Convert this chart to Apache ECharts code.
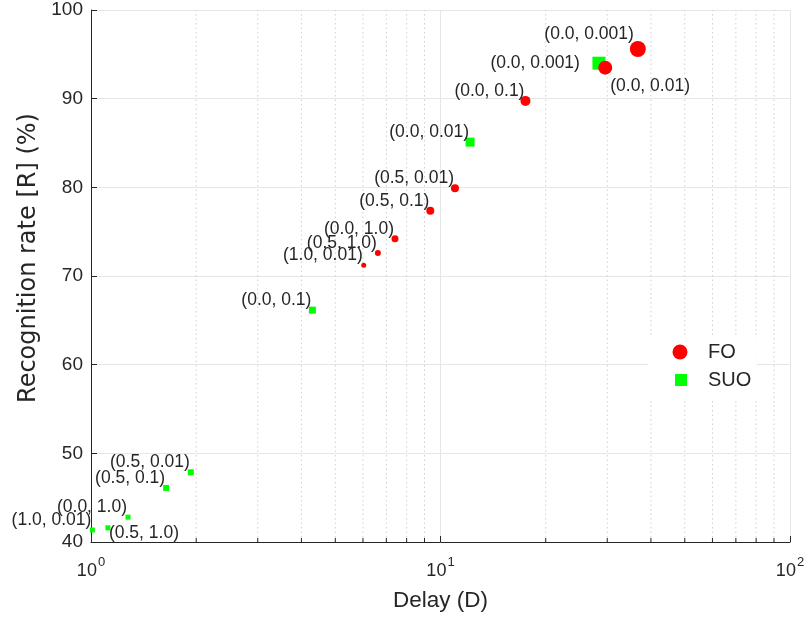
<!DOCTYPE html>
<html>
<head>
<meta charset="utf-8">
<script src="https://cdn.jsdelivr.net/npm/echarts@6/dist/echarts.min.js"></script>
<style>html,body{margin:0;padding:0;background:#fff;}#c{width:808px;height:623px;}</style>
</head>
<body>
<div id="c"></div>
<script>
// ---- data ----
const foX = [36.7, 29.6, 17.5, 11.0, 9.35, 7.41, 6.62, 6.03];
const foY = [95.6, 93.5, 89.75, 79.9, 77.35, 74.2, 72.6, 71.2];
const foLabels = ['(0.0, 0.001)', '(0.0, 0.01)', '(0.0, 0.1)', '(0.5, 0.01)', '(0.5, 0.1)', '(0.0, 1.0)', '(0.5, 1.0)', '(1.0, 0.01)'];

const suoX = [28.4, 12.15, 4.30, 1.93, 1.64, 1.276, 1.118, 1.009];
const suoY = [94.0, 85.1, 66.15, 47.86, 46.1, 42.8, 41.6, 41.35];
const suoLabels = ['(0.0, 0.001)', '(0.0, 0.01)', '(0.0, 0.1)', '(0.5, 0.01)', '(0.5, 0.1)', '(0.0, 1.0)', '(0.5, 1.0)', '(1.0, 0.01)'];

const xMinorTicks = [2, 3, 4, 5, 6, 7, 8, 9, 20, 30, 40, 50, 60, 70, 80, 90];
const yTickMin = 40, yTickMax = 100, yTickStep = 10;
const xTickMin = 1, xTickMax = 100;

// ---- styles ----
const foSizes = [16, 14, 10, 8, 8, 7, 6, 5];
const suoSizes = [13, 9, 7, 6, 6, 5, 5, 5];
const FONT = "'Liberation Sans', Arial, Helvetica, sans-serif";
const TXT = '#262626';
const foLabelStyle = { 0: ['right', [-4, -15]], 1: ['left', [5, 19]] };
const suoLabelStyle = { 0: ['right', [-19, 0]], 6: ['left', [1, 5]] };

function buildData(xs, ys, labels, sizes, special) {
  return xs.map((x, i) => {
    const s = special[i] || ['right', [-1, -10]];
    return {
      value: [x, ys[i]],
      symbolSize: sizes[i],
      label: {
        show: true,
        formatter: labels[i],
        position: ['50%', '50%'],
        align: s[0],
        verticalAlign: 'middle',
        offset: s[1],
        fontSize: 17.5,
        fontFamily: FONT,
        color: TXT
      }
    };
  });
}

const legendText = { fontSize: 20, fontFamily: FONT, color: TXT };

const chart = echarts.init(document.getElementById('c'), null, { renderer: 'canvas' });
chart.setOption({
  backgroundColor: '#fff',
  animation: false,
  grid: { left: 91, right: 18, top: 10, bottom: 81, containLabel: false },
  legend: [
    {
      orient: 'vertical',
      left: 648, top: 336,
      padding: [6, 21, 5, 24.5],
      backgroundColor: '#fff',
      itemWidth: 15, itemHeight: 15,
      textStyle: Object.assign({ padding: [0, 0, 0, 15.5] }, legendText),
      data: [{ name: 'FO', icon: 'circle' }]
    },
    {
      orient: 'vertical',
      left: 648, top: 367,
      padding: [3, 9, 8, 27],
      backgroundColor: '#fff',
      itemWidth: 12, itemHeight: 12,
      textStyle: Object.assign({ padding: [0, 0, 0, 16] }, legendText),
      data: [{ name: 'SUO', icon: 'rect' }]
    }
  ],
  xAxis: {
    type: 'log', logBase: 10, min: xTickMin, max: xTickMax,
    name: 'Delay (D)', nameLocation: 'middle', nameGap: 47,
    nameTextStyle: { fontSize: 22.5, fontFamily: FONT, color: TXT },
    axisLine: { lineStyle: { color: TXT, width: 1 } },
    axisTick: { inside: true, length: 6, lineStyle: { color: TXT } },
    splitLine: { show: true, lineStyle: { color: '#e6e6e6', width: 1 } },
    axisLabel: {
      margin: 14,
      formatter: function (v) {
        const e = Math.round(Math.log10(v));
        return '{a|10}{b|' + e + '}';
      },
      rich: {
        a: { fontSize: 18, fontFamily: FONT, color: TXT, lineHeight: 24, verticalAlign: 'bottom' },
        b: { fontSize: 13, fontFamily: FONT, color: TXT, lineHeight: 24, verticalAlign: 'top', padding: [0, 0, 0, 1] }
      }
    }
  },
  yAxis: {
    type: 'value', min: yTickMin, max: yTickMax, interval: yTickStep,
    name: 'Recognition rate [R] (%)', nameLocation: 'middle', nameGap: 32,
    nameTextStyle: { fontSize: 24, fontFamily: "'DejaVu Sans', 'Liberation Sans', sans-serif", color: TXT, padding: [0, 0, 0, 36] },
    axisLine: { show: true, lineStyle: { color: TXT, width: 1 } },
    axisTick: { show: true, inside: true, length: 6, lineStyle: { color: TXT } },
    splitLine: { show: true, lineStyle: { color: '#e6e6e6', width: 1 } },
    axisLabel: { fontSize: 19, fontFamily: FONT, color: TXT, margin: 8 }
  },
  series: [
    {
      type: 'custom',
      name: 'minor',
      silent: true,
      z: 1,
      data: xMinorTicks.map(v => [v]),
      encode: { x: 0 },
      renderItem: function (params, api) {
        const v = api.value(0);
        const b = api.coord([v, yTickMin]);
        const t = api.coord([v, yTickMax]);
        return {
          type: 'group',
          children: [
            { type: 'line', shape: { x1: b[0], y1: b[1], x2: t[0], y2: t[1] },
              style: { stroke: '#cfcfcf', lineWidth: 1, lineDash: [1.5, 3] } },
            { type: 'line', shape: { x1: b[0], y1: b[1], x2: b[0], y2: b[1] - 4 },
              style: { stroke: TXT, lineWidth: 1 } }
          ]
        };
      }
    },
    {
      type: 'scatter', name: 'SUO', symbol: 'rect', z: 3,
      itemStyle: { color: '#00ff00', opacity: 1 },
      data: buildData(suoX, suoY, suoLabels, suoSizes, suoLabelStyle)
    },
    {
      type: 'scatter', name: 'FO', symbol: 'circle', z: 4,
      itemStyle: { color: '#ff0000', opacity: 1 },
      data: buildData(foX, foY, foLabels, foSizes, foLabelStyle)
    }
  ]
});
</script>
</body>
</html>
